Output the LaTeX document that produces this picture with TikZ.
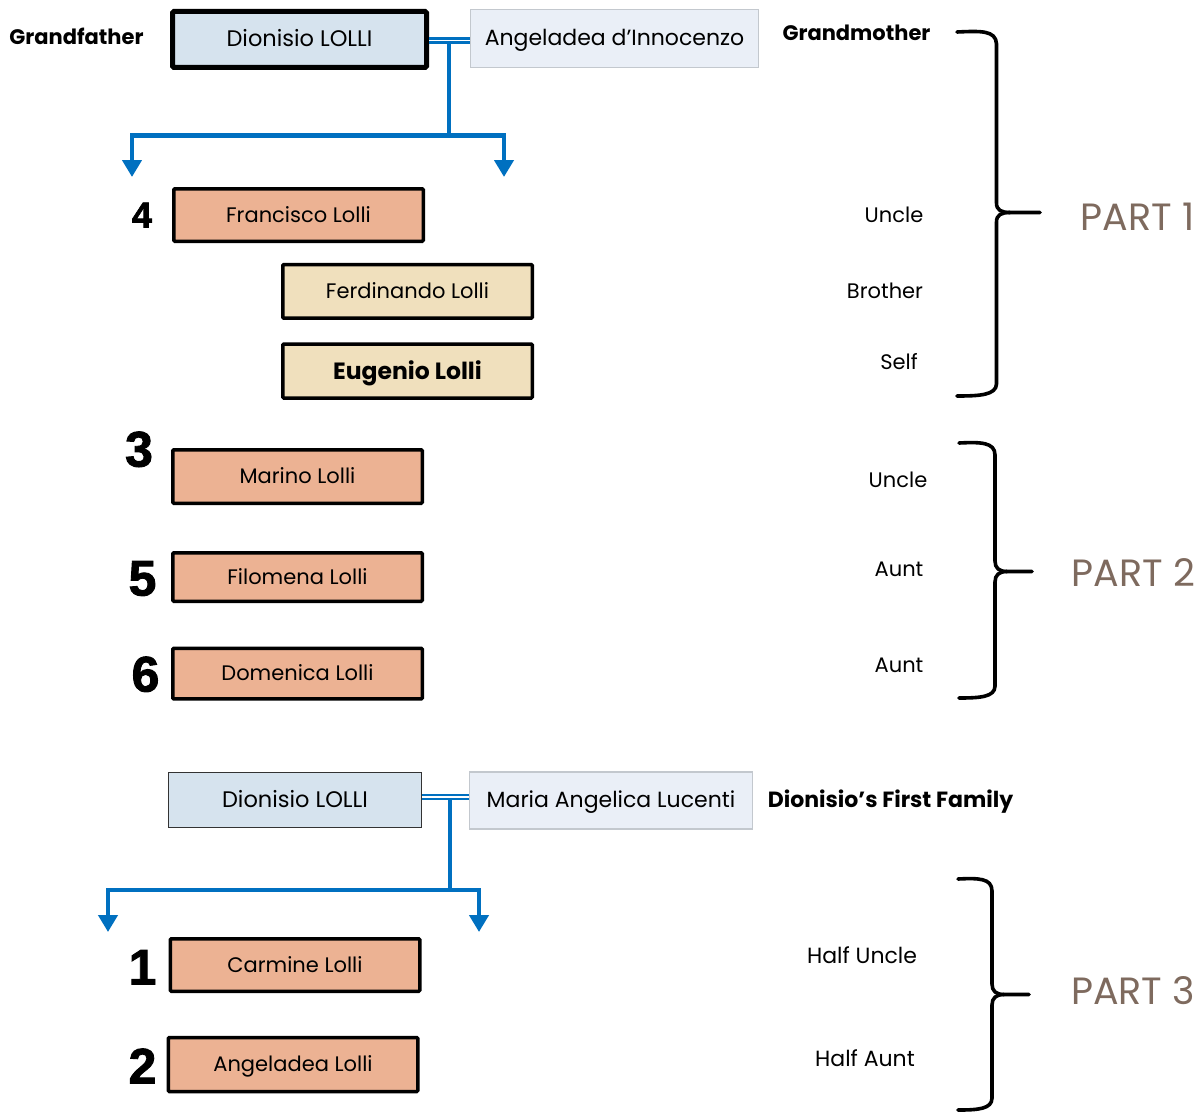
\documentclass[tikz,border=0pt]{standalone}
\usepackage{fontspec}
\setmainfont{Poppins}
\newfontfamily\numfont{Liberation Sans}[BoldFeatures={FakeBold=1.8}]
\usetikzlibrary{arrows.meta}
\definecolor{salmon}{HTML}{ECB293}
\definecolor{tan}{HTML}{F0E0BD}
\definecolor{lblue}{HTML}{D6E3EE}
\definecolor{pale}{HTML}{EAEFF7}
\definecolor{paleborder}{HTML}{C3C8CE}
\definecolor{linkblue}{HTML}{0070C0}
\definecolor{brown}{HTML}{7E6A5E}
\tikzset{
  boxtext/.style={inner sep=0pt, text height=14.5pt, text depth=0pt, font=\fontsize{21}{24}\selectfont},
  gfbox/.style={boxtext, draw=black, fill=lblue, line width=5pt, rounded corners=1.5pt, minimum width=254pt, minimum height=56pt},
  dlbox/.style={boxtext, draw=black!80, fill=lblue, line width=1.2pt, minimum width=253pt, minimum height=55pt},
  wifebox/.style={boxtext, draw=paleborder, fill=pale, line width=1.2pt},
  childbox/.style={boxtext, draw=black, line width=3.5pt, rounded corners=1pt, minimum width=249.5pt},
  pinkbox/.style={childbox, fill=salmon},
  tanbox/.style={childbox, fill=tan},
  lbl/.style={inner sep=0pt, text height=14.5pt, text depth=0pt, font=\fontsize{21}{24}\selectfont},
  blbl/.style={inner sep=0pt, text height=14.5pt, text depth=0pt, font=\fontsize{21}{24}\selectfont\bfseries},
  partlbl/.style={inner sep=0pt, text height=26.5pt, text depth=0pt, text=brown, font=\fontsize{38}{42}\selectfont},
  numlbl/.style={inner sep=0pt, text height=36pt, text depth=0pt, font=\fontsize{50}{54}\numfont\bfseries},
  dbl/.style={draw=linkblue, double=white, double distance=1.6pt, line width=2.4pt},
  bl/.style={draw=linkblue, line width=4.5pt, line join=miter},
  arr/.style={-{Triangle[width=19pt,length=17pt]}},
  bracepath/.style={draw=black, line width=3.6pt, line cap=round, line join=round}
}
\begin{document}
\begin{tikzpicture}[x=1pt,y=-1pt]
\useasboundingbox (0,0) rectangle (1201,1113);

% ---------- Part 1 top ----------
\node[blbl] (lgf) at (76.5,37) {Grandfather};
\node[gfbox, font=\fontsize{22.5}{25}\selectfont] (gf) at (299.5,39.5) {Dionisio LOLLI};
\node[wifebox, minimum width=288pt, minimum height=58.5pt, font=\fontsize{22}{25}\selectfont] (gm) at (614.5,38.5) {Angeladea d’Innocenzo};
\node[blbl] (lgm) at (856.5,33) {Grandmother};

\draw[dbl] ([yshift=-1pt]gf.east) -- ([yshift=-1pt]gf.east -| gm.west);
\coordinate (t1) at (449,43);
\coordinate (t2) at (449,135.5);
\coordinate (aL) at (132,177);
\coordinate (aR) at (504,177);
\draw[bl] (t1) -- (t2);
\draw[bl,arr] (t2) -| (aL);
\draw[bl,arr] (t2) -| (aR);

\node[numlbl, text height=26pt, font=\fontsize{36}{40}\numfont\bfseries] (n4) at (142,214.5) {4};
\node[pinkbox, minimum height=52.5pt] (fra) at (298.5,215) {Francisco Lolli};
\node[tanbox, minimum height=53.5pt] (fer) at (407.5,291.3) {Ferdinando Lolli};
\node[tanbox, minimum height=54pt, text height=16pt, font=\fontsize{23.5}{26}\selectfont\bfseries] (eug) at (407.5,371) {Eugenio Lolli};

\node[lbl] (r1) at (894,215) {Uncle};
\node[lbl] (r2) at (885,291) {Brother};
\node[lbl] (r3) at (899,362) {Self};

\draw[bracepath] (957,32) .. controls (980,31) and (996,30) .. (996.5,44) -- (996.5,203)
  .. controls (996.5,210) and (1001,212.5) .. (1010,212.5) -- (1040,212.5);
\draw[bracepath] (1010,212.5) .. controls (1001,212.5) and (996.5,215) .. (996.5,222) -- (996.5,384)
  .. controls (996,395) and (980,396) .. (957,396);
\node[partlbl] (p1) at (1137.5,217) {PART 1};

% ---------- Part 2 ----------
\node[numlbl] (n3) at (139,448.5) {3};
\node[pinkbox, minimum height=53.5pt] (mar) at (297.5,476.5) {Marino Lolli};
\node[numlbl] (n5) at (142.5,577.5) {5};
\node[pinkbox, minimum height=48.5pt] (fil) at (297.5,577) {Filomena Lolli};
\node[numlbl] (n6) at (145.5,673.5) {6};
\node[pinkbox, minimum height=50.5pt] (dom) at (297.5,673.7) {Domenica Lolli};

\node[lbl] (r4) at (898,480) {Uncle};
\node[lbl] (r5) at (899,569) {Aunt};
\node[lbl] (r6) at (899,665) {Aunt};

\draw[bracepath] (959,443) .. controls (980,442) and (995,442) .. (995,455) -- (995,561)
  .. controls (995,568) and (999,571.5) .. (1007,571.5) -- (1032,571.5);
\draw[bracepath] (1007,571.5) .. controls (999,571.5) and (995,575) .. (995,582) -- (995,686)
  .. controls (995,697) and (980,698) .. (959,698);
\node[partlbl] (p2) at (1133.5,573) {PART 2};

% ---------- Part 3 ----------
\node[dlbox, font=\fontsize{22.5}{25}\selectfont] (dl) at (295,800) {Dionisio LOLLI};
\node[wifebox, minimum width=283pt, minimum height=57pt, font=\fontsize{22}{25}\selectfont] (mal) at (611,800.5) {Maria Angelica Lucenti};
\node[blbl, font=\fontsize{22}{25}\selectfont\bfseries] (lff) at (890.5,800) {Dionisio’s First Family};

\draw[dbl] ([yshift=3pt]dl.east) -- ([yshift=3pt]dl.east -| mal.west);
\coordinate (b1) at (450,800);
\coordinate (b2) at (450,890);
\coordinate (bL) at (108,932);
\coordinate (bR) at (479,932);
\draw[bl] (b1) -- (b2);
\draw[bl,arr] (b2) -| (bL);
\draw[bl,arr] (b2) -| (bR);

\node[numlbl] (n1) at (142.5,966.5) {1};
\node[pinkbox, minimum height=52.5pt] (car) at (295,965) {Carmine Lolli};
\node[numlbl] (n2) at (142.5,1065.5) {2};
\node[pinkbox, minimum height=54pt] (ang) at (293,1064.5) {Angeladea Lolli};

\node[lbl, font=\fontsize{22}{25}\selectfont] (r7) at (862,956) {Half Uncle};
\node[lbl, font=\fontsize{22}{25}\selectfont] (r8) at (865,1059) {Half Aunt};

\draw[bracepath] (958,879) .. controls (978,878) and (992,878) .. (992,891) -- (992,984)
  .. controls (992,991) and (996,994.5) .. (1004,994.5) -- (1029,994.5);
\draw[bracepath] (1004,994.5) .. controls (996,994.5) and (992,998) .. (992,1005) -- (992,1098)
  .. controls (992,1109) and (978,1110) .. (958,1110);
\node[partlbl] (p3) at (1133,991) {PART 3};
\end{tikzpicture}
\end{document}
